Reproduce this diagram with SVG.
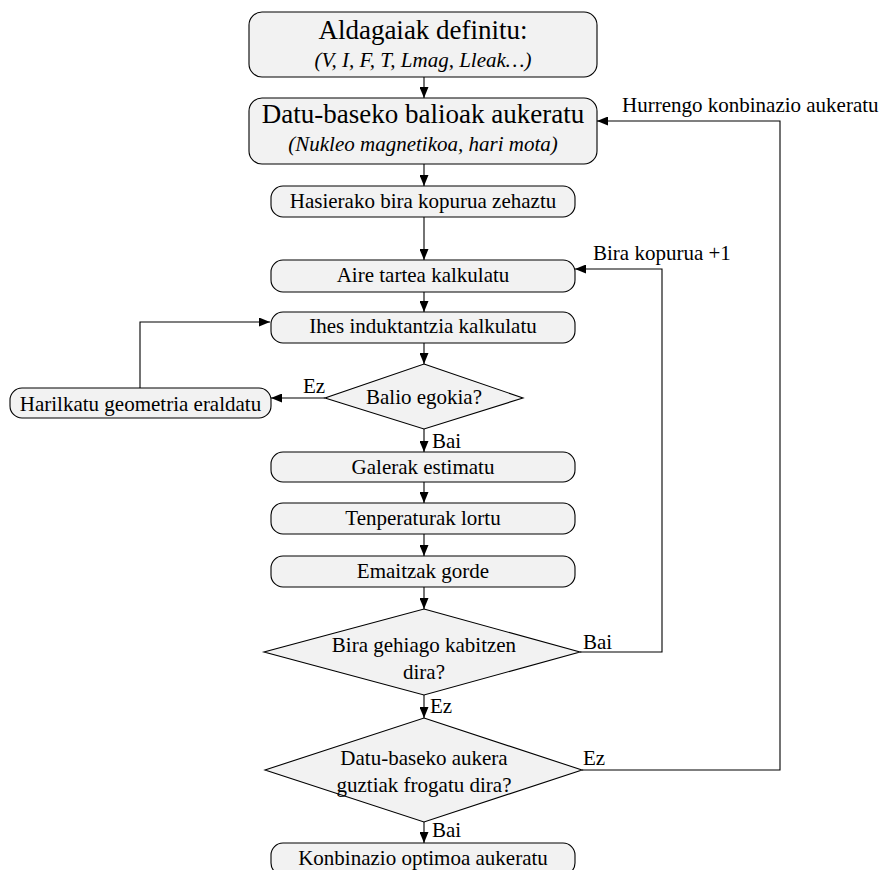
<svg xmlns="http://www.w3.org/2000/svg" width="885" height="870" viewBox="0 0 885 870">
<defs>
<marker id="ah" markerWidth="11" markerHeight="9" refX="11" refY="4.5" orient="auto" markerUnits="userSpaceOnUse">
<path d="M0,0 L11,4.5 L0,9 Z" fill="#000"/>
</marker>
<style>
.box{fill:#f2f2f2;stroke:#000;stroke-width:1.1}
.t{font-family:"Liberation Serif","Times New Roman",serif;font-size:21px;fill:#000}
.big{font-size:27px}
.it{font-style:italic}
.m{text-anchor:middle}
.c{fill:none;stroke:#000;stroke-width:1.1}
</style>
</defs>
<rect width="885" height="870" fill="#fff"/>
<g id="connectors">
<line class="c" x1="424" y1="77" x2="424" y2="98" marker-end="url(#ah)"/>
<line class="c" x1="424" y1="164" x2="424" y2="186" marker-end="url(#ah)"/>
<line class="c" x1="424" y1="217" x2="424" y2="260" marker-end="url(#ah)"/>
<line class="c" x1="424" y1="292" x2="424" y2="312" marker-end="url(#ah)"/>
<line class="c" x1="424" y1="343" x2="424" y2="364" marker-end="url(#ah)"/>
<line class="c" x1="424" y1="429" x2="424" y2="452" marker-end="url(#ah)"/>
<line class="c" x1="424" y1="482" x2="424" y2="503" marker-end="url(#ah)"/>
<line class="c" x1="424" y1="534" x2="424" y2="556" marker-end="url(#ah)"/>
<line class="c" x1="424" y1="587" x2="424" y2="609" marker-end="url(#ah)"/>
<line class="c" x1="424" y1="695" x2="424" y2="718" marker-end="url(#ah)"/>
<line class="c" x1="424" y1="822" x2="424" y2="843" marker-end="url(#ah)"/>
<line class="c" x1="325" y1="398" x2="271" y2="398" marker-end="url(#ah)"/>
<polyline class="c" points="140,388 140,322 270,322" marker-end="url(#ah)"/>
<polyline class="c" points="580,652 662,652 662,269 575,269" marker-end="url(#ah)"/>
<polyline class="c" points="582,770 780,770 780,121 597,121" marker-end="url(#ah)"/>
<text class="t" x="303" y="393">Ez</text>
<text class="t" x="432" y="448">Bai</text>
<text class="t" x="583" y="649">Bai</text>
<text class="t" x="430" y="713">Ez</text>
<text class="t" x="583" y="765">Ez</text>
<text class="t" x="432" y="837">Bai</text>
<text class="t" x="622" y="112">Hurrengo konbinazio aukeratu</text>
<text class="t" x="593" y="260">Bira kopurua +1</text>
</g>
<g id="n1">
<rect class="box" x="249" y="12" width="348" height="65" rx="13"/>
<text class="t big m" x="423" y="39">Aldagaiak definitu:</text>
<text class="t it m" x="423" y="67">(V, I, F, T, Lmag, Lleak…)</text>
</g>
<g id="n2">
<rect class="box" x="249" y="98" width="348" height="66" rx="13"/>
<text class="t big m" x="423" y="123">Datu-baseko balioak aukeratu</text>
<text class="t it m" x="423" y="151">(Nukleo magnetikoa, hari mota)</text>
</g>
<g id="n3">
<rect class="box" x="271" y="186" width="304" height="31" rx="12"/>
<text class="t m" x="423" y="208">Hasierako bira kopurua zehaztu</text>
</g>
<g id="n4">
<rect class="box" x="271" y="260" width="304" height="32" rx="12"/>
<text class="t m" x="423" y="282">Aire tartea kalkulatu</text>
</g>
<g id="n5">
<rect class="box" x="271" y="312" width="304" height="31" rx="12"/>
<text class="t m" x="423" y="333">Ihes induktantzia kalkulatu</text>
</g>
<g id="n6">
<polygon class="box" points="424,364 523,398 424,429 325,398"/>
<text class="t m" x="424" y="404">Balio egokia?</text>
</g>
<g id="n7">
<rect class="box" x="10" y="388" width="261" height="30" rx="12"/>
<text class="t m" x="140.5" y="411">Harilkatu geometria eraldatu</text>
</g>
<g id="n8">
<rect class="box" x="271" y="452" width="304" height="30" rx="12"/>
<text class="t m" x="423" y="474">Galerak estimatu</text>
</g>
<g id="n9">
<rect class="box" x="271" y="503" width="304" height="31" rx="12"/>
<text class="t m" x="423" y="525">Tenperaturak lortu</text>
</g>
<g id="n10">
<rect class="box" x="271" y="556" width="304" height="31" rx="12"/>
<text class="t m" x="423" y="578">Emaitzak gorde</text>
</g>
<g id="n11">
<polygon class="box" points="424,609 580,652 424,695 264,652"/>
<text class="t m" x="424" y="652">Bira gehiago kabitzen</text>
<text class="t m" x="424" y="679">dira?</text>
</g>
<g id="n12">
<polygon class="box" points="424,718 582,770 424,822 265,770"/>
<text class="t m" x="424" y="765">Datu-baseko aukera</text>
<text class="t m" x="424" y="792">guztiak frogatu dira?</text>
</g>
<g id="n13">
<rect class="box" x="271" y="843" width="304" height="32" rx="12"/>
<text class="t m" x="423" y="865">Konbinazio optimoa aukeratu</text>
</g>
</svg>
